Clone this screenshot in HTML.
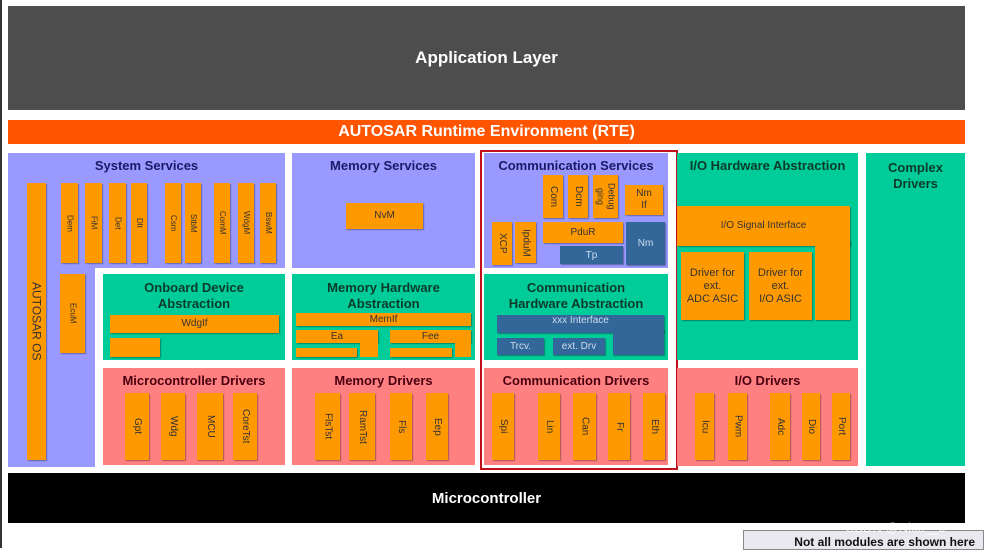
<!DOCTYPE html>
<html><head><meta charset="utf-8"><style>
body{margin:0;width:984px;height:548px;background:#fff;position:relative;overflow:hidden;font-family:"Liberation Sans",sans-serif}
div{position:absolute;box-sizing:border-box}
.p{background:#9999ff}.g{background:#00cc99}.r{background:#ff8080}
.o{background:#ff9900;box-shadow:1px 1px 1px rgba(0,0,0,.35);color:#333;font-size:10px;display:flex;align-items:center;justify-content:center;text-align:center;line-height:12px}
.b{background:#336699;box-shadow:1px 1px 1px rgba(0,0,0,.35);color:#cde;font-size:10px;display:flex;align-items:center;justify-content:center}
.v{writing-mode:vertical-rl}
.t{font-weight:bold;font-size:13px;text-align:center;line-height:16px}
.tp{color:#1a1a66}.tg{color:#0a3a2a}.tr{color:#4a0010}
</style></head><body>
<div style="left:0;top:0;width:2px;height:548px;background:#333"></div>
<div style="left:8px;top:6px;width:957px;height:104px;background:#4d4d4d;color:#fff;font-weight:bold;font-size:17px;display:flex;align-items:center;justify-content:center">Application Layer</div>
<div style="left:8px;top:120px;width:957px;height:24px;background:#ff5500;color:#fff;font-weight:bold;font-size:16px;display:flex;align-items:center;justify-content:center">AUTOSAR Runtime Environment (RTE)</div>

<!-- System services -->
<div class="p" style="left:8px;top:153px;width:277px;height:115px"></div>
<div class="p" style="left:8px;top:268px;width:87px;height:199px"></div>
<div class="t tp" style="left:8px;top:158px;width:277px">System Services</div>
<div class="o v" style="left:27px;top:183px;width:19px;height:277px;font-size:12px">AUTOSAR OS</div>
<div class="o v" style="left:61px;top:183px;width:17px;height:80px;font-size:8px">Dem</div>
<div class="o v" style="left:85px;top:183px;width:17px;height:80px;font-size:8px">FiM</div>
<div class="o v" style="left:109px;top:183px;width:17px;height:80px;font-size:8px">Det</div>
<div class="o v" style="left:131px;top:183px;width:16px;height:80px;font-size:8px">Dlt</div>
<div class="o v" style="left:165px;top:183px;width:16px;height:80px;font-size:8px">Csm</div>
<div class="o v" style="left:185px;top:183px;width:16px;height:80px;font-size:8px">StbM</div>
<div class="o v" style="left:214px;top:183px;width:16px;height:80px;font-size:8px">ComM</div>
<div class="o v" style="left:238px;top:183px;width:16px;height:80px;font-size:8px">WdgM</div>
<div class="o v" style="left:260px;top:183px;width:16px;height:80px;font-size:8px">BswM</div>
<div class="o v" style="left:60px;top:274px;width:25px;height:79px;font-size:8px">EcuM</div>

<div class="g" style="left:103px;top:274px;width:182px;height:86px"></div>
<div class="t tg" style="left:103px;top:280px;width:182px">Onboard Device<br>Abstraction</div>
<div class="o" style="left:110px;top:315px;width:169px;height:18px">WdgIf</div>
<div class="o" style="left:110px;top:338px;width:50px;height:19px"></div>
<div class="r" style="left:103px;top:368px;width:182px;height:97px"></div>
<div class="t tr" style="left:103px;top:373px;width:182px">Microcontroller Drivers</div>
<div class="o v" style="left:125px;top:393px;width:24px;height:67px">Gpt</div>
<div class="o v" style="left:161px;top:393px;width:24px;height:67px">Wdg</div>
<div class="o v" style="left:197px;top:393px;width:26px;height:67px">MCU</div>
<div class="o v" style="left:233px;top:393px;width:24px;height:67px">CoreTst</div>

<!-- Memory -->
<div class="p" style="left:292px;top:153px;width:183px;height:115px"></div>
<div class="t tp" style="left:292px;top:158px;width:183px">Memory Services</div>
<div class="o" style="left:346px;top:203px;width:77px;height:26px">NvM</div>
<div class="g" style="left:292px;top:274px;width:183px;height:86px"></div>
<div class="t tg" style="left:292px;top:280px;width:183px">Memory Hardware<br>Abstraction</div>
<div class="o" style="left:296px;top:313px;width:175px;height:13px">MemIf</div>
<div class="o" style="left:296px;top:330px;width:82px;height:13px">Ea</div>
<div class="o" style="left:360px;top:340px;width:18px;height:17px;box-shadow:none"></div>
<div class="o" style="left:296px;top:348px;width:61px;height:9px"></div>
<div class="o" style="left:390px;top:330px;width:81px;height:13px">Fee</div>
<div class="o" style="left:455px;top:340px;width:16px;height:17px;box-shadow:none"></div>
<div class="o" style="left:390px;top:348px;width:62px;height:9px"></div>
<div class="r" style="left:292px;top:368px;width:183px;height:97px"></div>
<div class="t tr" style="left:292px;top:373px;width:183px">Memory Drivers</div>
<div class="o v" style="left:315px;top:393px;width:25px;height:67px">FlsTst</div>
<div class="o v" style="left:349px;top:393px;width:26px;height:67px">RamTst</div>
<div class="o v" style="left:390px;top:393px;width:22px;height:67px">Fls</div>
<div class="o v" style="left:426px;top:393px;width:22px;height:67px">Eep</div>

<!-- Communication -->
<div class="p" style="left:484px;top:153px;width:184px;height:115px"></div>
<div class="t tp" style="left:484px;top:158px;width:184px">Communication Services</div>
<div class="o v" style="left:543px;top:175px;width:20px;height:43px">Com</div>
<div class="o v" style="left:568px;top:175px;width:20px;height:43px">Dcm</div>
<div class="o v" style="left:593px;top:175px;width:25px;height:43px;font-size:9px;line-height:11px">Debug<br>ging</div>
<div class="o" style="left:625px;top:185px;width:38px;height:30px">Nm<br>If</div>
<div class="o v" style="left:492px;top:222px;width:20px;height:43px">XCP</div>
<div class="o v" style="left:515px;top:222px;width:21px;height:41px">IpduM</div>
<div class="o" style="left:543px;top:222px;width:80px;height:21px">PduR</div>
<div class="b" style="left:560px;top:246px;width:63px;height:18px">Tp</div>
<div class="b" style="left:626px;top:222px;width:39px;height:43px">Nm</div>
<div class="g" style="left:484px;top:274px;width:184px;height:86px"></div>
<div class="t tg" style="left:484px;top:280px;width:184px">Communication<br>Hardware Abstraction</div>
<div class="b" style="left:497px;top:315px;width:167px;height:18px;align-items:flex-start">xxx Interface</div>
<div class="b" style="left:613px;top:330px;width:51px;height:25px;box-shadow:1px 1px 1px rgba(0,0,0,.35)"></div>
<div class="b" style="left:497px;top:338px;width:47px;height:17px">Trcv.</div>
<div class="b" style="left:553px;top:338px;width:52px;height:17px">ext. Drv</div>
<div class="r" style="left:484px;top:368px;width:184px;height:97px"></div>
<div class="t tr" style="left:484px;top:373px;width:184px">Communication Drivers</div>
<div class="o v" style="left:492px;top:393px;width:22px;height:67px">Spi</div>
<div class="o v" style="left:538px;top:393px;width:22px;height:67px">Lin</div>
<div class="o v" style="left:573px;top:393px;width:23px;height:67px">Can</div>
<div class="o v" style="left:608px;top:393px;width:22px;height:67px">Fr</div>
<div class="o v" style="left:643px;top:393px;width:22px;height:67px">Eth</div>
<div style="left:480px;top:150px;width:198px;height:320px;border:2px solid #c0101a"></div>

<!-- I/O -->
<div class="g" style="left:677px;top:153px;width:181px;height:207px"></div>
<div class="t tg" style="left:677px;top:158px;width:181px">I/O Hardware Abstraction</div>
<div class="o" style="left:677px;top:206px;width:173px;height:40px">I/O Signal Interface</div>
<div class="o" style="left:815px;top:240px;width:35px;height:80px"></div>
<div class="o" style="left:681px;top:252px;width:63px;height:68px;font-size:11px;line-height:13px">Driver for<br>ext.<br>ADC ASIC</div>
<div class="o" style="left:749px;top:252px;width:63px;height:68px;font-size:11px;line-height:13px">Driver for<br>ext.<br>I/O ASIC</div>
<div class="r" style="left:677px;top:368px;width:181px;height:98px"></div>
<div class="t tr" style="left:677px;top:373px;width:181px">I/O Drivers</div>
<div class="o v" style="left:695px;top:393px;width:19px;height:67px">Icu</div>
<div class="o v" style="left:728px;top:393px;width:19px;height:67px">Pwm</div>
<div class="o v" style="left:770px;top:393px;width:20px;height:67px">Adc</div>
<div class="o v" style="left:802px;top:393px;width:18px;height:67px">Dio</div>
<div class="o v" style="left:832px;top:393px;width:18px;height:67px">Port</div>

<div class="g" style="left:866px;top:153px;width:99px;height:313px"></div>
<div class="t tg" style="left:866px;top:160px;width:99px">Complex<br>Drivers</div>

<div style="left:8px;top:473px;width:957px;height:50px;background:#000;color:#fff;font-weight:bold;font-size:15px;display:flex;align-items:center;justify-content:center">Microcontroller</div>
<div style="left:743px;top:530px;width:241px;height:20px;background:#e8e8ee;border:1px solid #888;color:#111;font-weight:bold;font-size:12px;text-align:right;padding:4px 8px 0 0">Not all modules are shown here</div>
<div style="left:845px;top:520px;width:140px;color:rgba(255,255,255,.8);font-size:13px">CSDN @Nice__J</div>
</body></html>
